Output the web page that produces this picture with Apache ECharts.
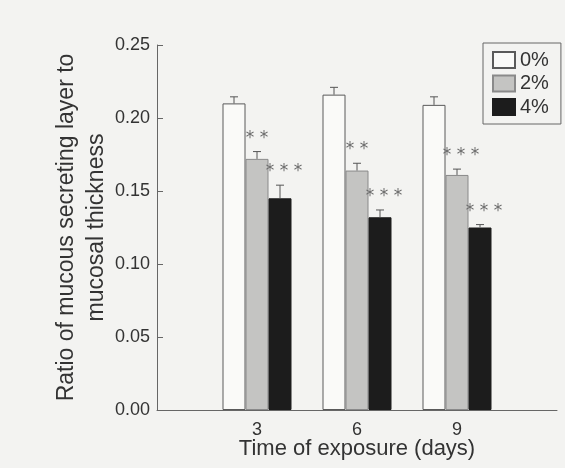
<!DOCTYPE html>
<html>
<head>
<meta charset="utf-8">
<script src="https://cdn.jsdelivr.net/npm/echarts@6/dist/echarts.min.js"></script>
<style>
html,body{margin:0;padding:0;background:#f3f3f1;}
#chart{width:565px;height:468px;}
</style>
</head>
<body>
<div id="chart"></div>
<script>
// Data
var days = [3, 6, 9];
var seriesNames = ['0%', '2%', '4%'];
var mean0 = [0.210, 0.216, 0.209];
var mean2 = [0.172, 0.164, 0.161];
var mean4 = [0.145, 0.132, 0.125];
var err0 = [0.0045, 0.005, 0.0055];
var err2 = [0.005, 0.005, 0.004];
var err4 = [0.009, 0.005, 0.002];
var sig0 = ['', '', ''];
var sig2 = ['**', '**', '***'];
var sig4 = ['***', '***', '***'];
var yTicks = [0, 0.05, 0.10, 0.15, 0.20, 0.25];

var means = [mean0, mean2, mean4];
var errs = [err0, err2, err4];
var sigs = [sig0, sig2, sig4];
var fills = ['#fafaf8', '#c4c4c2', '#1c1c1c'];
var borders = ['#5a5a5a', '#8a8a8a', '#1c1c1c'];
var BAR_W = 23;
var FONT = 'Liberation Sans, Arial, Helvetica, sans-serif';

var chart = echarts.init(document.getElementById('chart'));

var series = [];
means.forEach(function (m, si) {
  series.push({
    name: seriesNames[si],
    type: 'bar',
    barWidth: BAR_W,
    barGap: '0%',
    data: days.map(function (d, i) { return [d, m[i]]; }),
    itemStyle: { color: fills[si], borderColor: borders[si], borderWidth: 1 },
    z: 2
  });
});
means.forEach(function (m, si) {
  series.push({
    type: 'custom',
    data: days.map(function (d, i) { return [d, m[i], errs[si][i]]; }),
    renderItem: (function (k) {
      return function (params, api) {
        var x = api.value(0), y = api.value(1), e = api.value(2);
        var top = api.coord([x, y]);
        var cap = api.coord([x, y + e]);
        var cx = top[0] + (k - 1) * BAR_W;
        var label = sigs[k][params.dataIndex];
        var shift = label.length === 3 ? 4 : 0;
        var children = [
          { type: 'line', shape: { x1: cx, y1: top[1], x2: cx, y2: cap[1] }, style: { stroke: '#555', lineWidth: 1 } },
          { type: 'line', shape: { x1: cx - 4, y1: cap[1], x2: cx + 4, y2: cap[1] }, style: { stroke: '#555', lineWidth: 1 } }
        ];
        if (label) {
          children.push({
            type: 'text',
            style: {
              text: label.split('').join(' '),
              x: cx + shift, y: cap[1] - 5,
              align: 'center', verticalAlign: 'bottom',
              fill: '#6a6a6a', fontSize: 17, fontFamily: 'DejaVu Sans'
            }
          });
        }
        return { type: 'group', children: children };
      };
    })(si),
    z: 3,
    silent: true
  });
});

chart.setOption({
  backgroundColor: '#f3f3f1',
  animation: false,
  grid: { left: 157, right: 8, top: 45, bottom: 58, containLabel: false, outerBoundsMode: 'none' },
  legend: {
    data: seriesNames,
    orient: 'vertical',
    left: 483, top: 43,
    padding: [7, 12, 7, 9],
    itemWidth: 22, itemHeight: 16, itemGap: 3.5,
    icon: 'rect',
    borderColor: '#666', borderWidth: 1,
    textStyle: { fontSize: 20, color: '#333', fontFamily: FONT }
  },
  xAxis: {
    type: 'value', min: 0, max: 12, interval: 3,
    name: 'Time of exposure (days)', nameLocation: 'middle', nameGap: 28,
    nameMoveOverlap: false,
    nameTextStyle: { fontSize: 22, color: '#333', fontFamily: FONT, verticalAlign: 'top' },
    axisLine: { show: true, lineStyle: { color: '#666', width: 1 } },
    axisTick: { show: false },
    splitLine: { show: false },
    axisLabel: {
      fontSize: 18, color: '#333', fontFamily: FONT, margin: 11,
      formatter: function (v) { return days.indexOf(v) >= 0 ? String(v) : ''; }
    }
  },
  yAxis: {
    type: 'value', min: yTicks[0], max: yTicks[yTicks.length - 1], interval: 0.05,
    name: 'Ratio of mucous secreting layer to\nmucosal thickness',
    nameLocation: 'middle', nameGap: 45, nameRotate: 90,
    nameMoveOverlap: false,
    nameTextStyle: { fontSize: 23, color: '#333', fontFamily: FONT, lineHeight: 30 },
    axisLine: { show: true, lineStyle: { color: '#666', width: 1 } },
    axisTick: { show: true, inside: true, length: 6, lineStyle: { color: '#666' } },
    splitLine: { show: false },
    axisLabel: {
      fontSize: 18, color: '#333', fontFamily: FONT, margin: 7,
      formatter: function (v) { return v.toFixed(2); }
    }
  },
  series: series
});
</script>
</body>
</html>
